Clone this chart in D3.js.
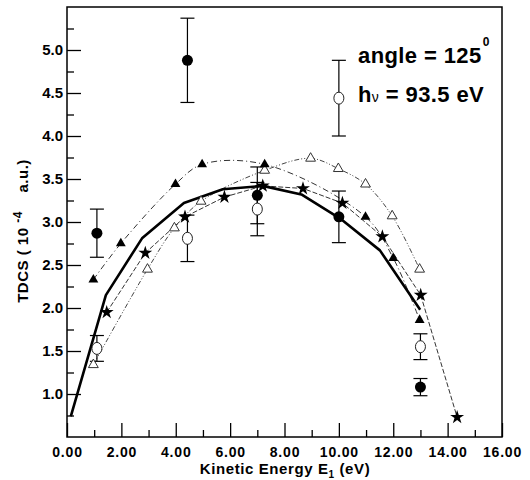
<!DOCTYPE html>
<html>
<head>
<meta charset="utf-8">
<script src="https://cdn.jsdelivr.net/npm/d3@7"></script>
<style>
  body { margin: 0; background: #fff; }
  text { font-family: "Liberation Sans", Arial, sans-serif; font-weight: bold; fill: #000; }
</style>
</head>
<body>
<div id="chart"></div>
<script>
// experiment, filled circles (with error bars)
const fcX = [1.1, 4.43, 7.0, 10.0, 13.0];
const fcY = [2.87, 4.88, 3.31, 3.06, 1.08];
const fcErr = [0.28, 0.49, 0.33, 0.30, 0.10];

// experiment, open circles (with error bars)
const ocX = [1.1, 4.43, 7.0, 10.0, 13.0];
const ocY = [1.53, 2.81, 3.15, 4.44, 1.55];
const ocErr = [0.15, 0.27, 0.31, 0.44, 0.15];

// filled triangles, dash-dot line
const ftX = [0.97, 1.98, 3.99, 4.97, 7.27, 10.98, 12.0, 12.97];
const ftY = [2.33, 2.75, 3.44, 3.67, 3.67, 3.06, 2.58, 1.86];

// open triangles, dash-dot-dot line
const otX = [0.97, 2.96, 3.95, 4.93, 7.27, 8.96, 9.98, 10.98, 11.96, 12.97];
const otY = [1.34, 2.45, 2.93, 3.24, 3.60, 3.74, 3.62, 3.44, 3.07, 2.45];

// stars, dashed line
const stX = [1.46, 2.88, 4.34, 5.79, 7.2, 8.68, 10.13, 11.6, 13.01, 14.35];
const stY = [1.95, 2.64, 3.06, 3.29, 3.42, 3.39, 3.22, 2.83, 2.15, 0.73];

// thick solid line
const thX = [0.14, 1.43, 2.76, 4.3, 5.73, 7.2, 8.62, 10.05, 11.51, 12.99];
const thY = [0.74, 2.15, 2.81, 3.22, 3.38, 3.42, 3.32, 3.04, 2.67, 1.98];

const xTicks = [0, 2, 4, 6, 8, 10, 12, 14, 16];
const xTickLabels = ["0.00", "2.00", "4.00", "6.00", "8.00", "10.00", "12.00", "14.00", "16.00"];
const yTicks = [1.0, 1.5, 2.0, 2.5, 3.0, 3.5, 4.0, 4.5, 5.0];
const yTickLabels = ["1.0", "1.5", "2.0", "2.5", "3.0", "3.5", "4.0", "4.5", "5.0"];

const width = 530, height = 480;
const pLeft = 67, pRight = 502, pTop = 7, pBottom = 437;

const svg = d3.select("#chart").append("svg")
    .attr("width", width)
    .attr("height", height);

const x = d3.scaleLinear().domain([0, 16]).range([pLeft, pRight]);
const y = d3.scaleLinear().domain([0.5, 5.5]).range([pBottom, pTop]);

const zip = (xs, ys) => xs.map((v, i) => [v, ys[i]]);

// minor ticks first, majors on top
const xMinor = d3.range(1, 16, 2);
const yMinor = d3.range(0.75, 5.5, 0.5);

svg.append("g")
    .attr("transform", `translate(0,${pBottom})`)
    .call(d3.axisBottom(x).tickValues(xMinor).tickSize(-7).tickFormat(""))
    .call(g => g.select(".domain").remove());

svg.append("g")
    .attr("transform", `translate(${pLeft},0)`)
    .call(d3.axisLeft(y).tickValues(yMinor).tickSize(-7).tickFormat(""))
    .call(g => g.select(".domain").remove());

svg.append("g")
    .attr("transform", `translate(0,${pBottom})`)
    .call(d3.axisBottom(x).tickValues(xTicks).tickSize(-14).tickPadding(10)
      .tickFormat((d, i) => xTickLabels[i]))
    .call(g => g.select(".domain").remove())
    .call(g => g.selectAll("text").style("font-size", "14px").style("letter-spacing", "0.8px"));

svg.append("g")
    .attr("transform", `translate(${pLeft},0)`)
    .call(d3.axisLeft(y).tickValues(yTicks).tickSize(-14).tickPadding(4)
      .tickFormat((d, i) => yTickLabels[i]))
    .call(g => g.select(".domain").remove())
    .call(g => g.selectAll("text").style("font-size", "15px"));

svg.selectAll(".tick line").attr("stroke", "#000").attr("stroke-width", 1.3);

// frame
svg.append("rect")
    .attr("x", pLeft).attr("y", pTop)
    .attr("width", pRight - pLeft).attr("height", pBottom - pTop)
    .attr("fill", "none").attr("stroke", "#000").attr("stroke-width", 1.5);

const lineLin = d3.line().x(d => x(d[0])).y(d => y(d[1]));
const lineSmooth = d3.line().x(d => x(d[0])).y(d => y(d[1])).curve(d3.curveCatmullRom.alpha(0.5));

// lines
svg.append("path").datum(zip(otX, otY))
    .attr("d", lineSmooth).attr("fill", "none")
    .attr("stroke", "#444").attr("stroke-width", 1)
    .attr("stroke-dasharray", "5,2,1,2,1,2");

svg.append("path").datum(zip(ftX, ftY))
    .attr("d", lineSmooth).attr("fill", "none")
    .attr("stroke", "#333").attr("stroke-width", 1)
    .attr("stroke-dasharray", "6,3,1,3");

svg.append("path").datum(zip(stX, stY))
    .attr("d", lineLin).attr("fill", "none")
    .attr("stroke", "#333").attr("stroke-width", 1)
    .attr("stroke-dasharray", "5,2");

svg.append("path").datum(zip(thX, thY))
    .attr("d", lineLin).attr("fill", "none")
    .attr("stroke", "#000").attr("stroke-width", 2.6)
    .attr("stroke-linejoin", "round");

// error bars
function errorBars(xs, ys, errs) {
  const g = svg.append("g").attr("stroke", "#000").attr("stroke-width", 1.2);
  const data = xs.map((v, i) => ({ x: v, y: ys[i], e: errs[i] }));
  g.selectAll("line.v").data(data).join("line").attr("class", "v")
    .attr("x1", d => x(d.x)).attr("x2", d => x(d.x))
    .attr("y1", d => y(d.y + d.e)).attr("y2", d => y(d.y - d.e));
  g.selectAll("line.t").data(data).join("line").attr("class", "t")
    .attr("x1", d => x(d.x) - 7).attr("x2", d => x(d.x) + 7)
    .attr("y1", d => y(d.y + d.e)).attr("y2", d => y(d.y + d.e));
  g.selectAll("line.b").data(data).join("line").attr("class", "b")
    .attr("x1", d => x(d.x) - 7).attr("x2", d => x(d.x) + 7)
    .attr("y1", d => y(d.y - d.e)).attr("y2", d => y(d.y - d.e));
}
errorBars(ocX, ocY, ocErr);
errorBars(fcX, fcY, fcErr);

// markers
svg.append("g").selectAll("ellipse").data(zip(ocX, ocY)).join("ellipse")
    .attr("cx", d => x(d[0])).attr("cy", d => y(d[1]))
    .attr("rx", 5).attr("ry", 6)
    .attr("fill", "#fff").attr("stroke", "#222").attr("stroke-width", 1);

const tri = d3.symbol().type(d3.symbolTriangle).size(42);
const star = d3.symbol().type(d3.symbolStar).size(60);

svg.append("g").selectAll("path").data(zip(otX, otY)).join("path")
    .attr("transform", d => `translate(${x(d[0])},${y(d[1])})`)
    .attr("d", tri).attr("fill", "#fff").attr("stroke", "#333").attr("stroke-width", 1);

svg.append("g").selectAll("path").data(zip(ftX, ftY)).join("path")
    .attr("transform", d => `translate(${x(d[0])},${y(d[1])})`)
    .attr("d", tri).attr("fill", "#000");

svg.append("g").selectAll("path").data(zip(stX, stY)).join("path")
    .attr("transform", d => `translate(${x(d[0])},${y(d[1])})`)
    .attr("d", star).attr("fill", "#000");

svg.append("g").selectAll("circle").data(zip(fcX, fcY)).join("circle")
    .attr("cx", d => x(d[0])).attr("cy", d => y(d[1]))
    .attr("r", 5.5).attr("fill", "#000");

// annotations
const t1 = svg.append("text").attr("x", 358).attr("y", 63)
    .style("font-size", "22px").style("letter-spacing", "0.4px");
t1.append("tspan").text("angle = 125");
t1.append("tspan").attr("dx", 1).attr("dy", -17).style("font-size", "12px").text("0");

const t2 = svg.append("text").attr("x", 358).attr("y", 102)
    .style("font-size", "22px").style("letter-spacing", "0.4px");
t2.append("tspan").text("h");
t2.append("tspan").style("font-size", "14px").style("font-weight", "normal").text("ν");
t2.append("tspan").text(" = 93.5 eV");

// axis titles
const xt = svg.append("text").attr("x", 285).attr("y", 474)
    .attr("text-anchor", "middle").style("font-size", "15px").style("letter-spacing", "0.6px");
xt.append("tspan").text("Kinetic Energy E");
xt.append("tspan").attr("dy", 4).style("font-size", "10px").text("1");
xt.append("tspan").attr("dy", -4).text(" (eV)");

const yt = svg.append("text")
    .attr("transform", "translate(28,231) rotate(-90)")
    .attr("text-anchor", "middle").attr("xml:space", "preserve")
    .style("font-size", "15px").style("letter-spacing", "0.5px");
yt.append("tspan").text("TDCS ( 10 ");
yt.append("tspan").attr("dy", -6).style("font-size", "12px").text("-4");
yt.append("tspan").attr("dy", 6).text("    a.u.)");
</script>
</body>
</html>
